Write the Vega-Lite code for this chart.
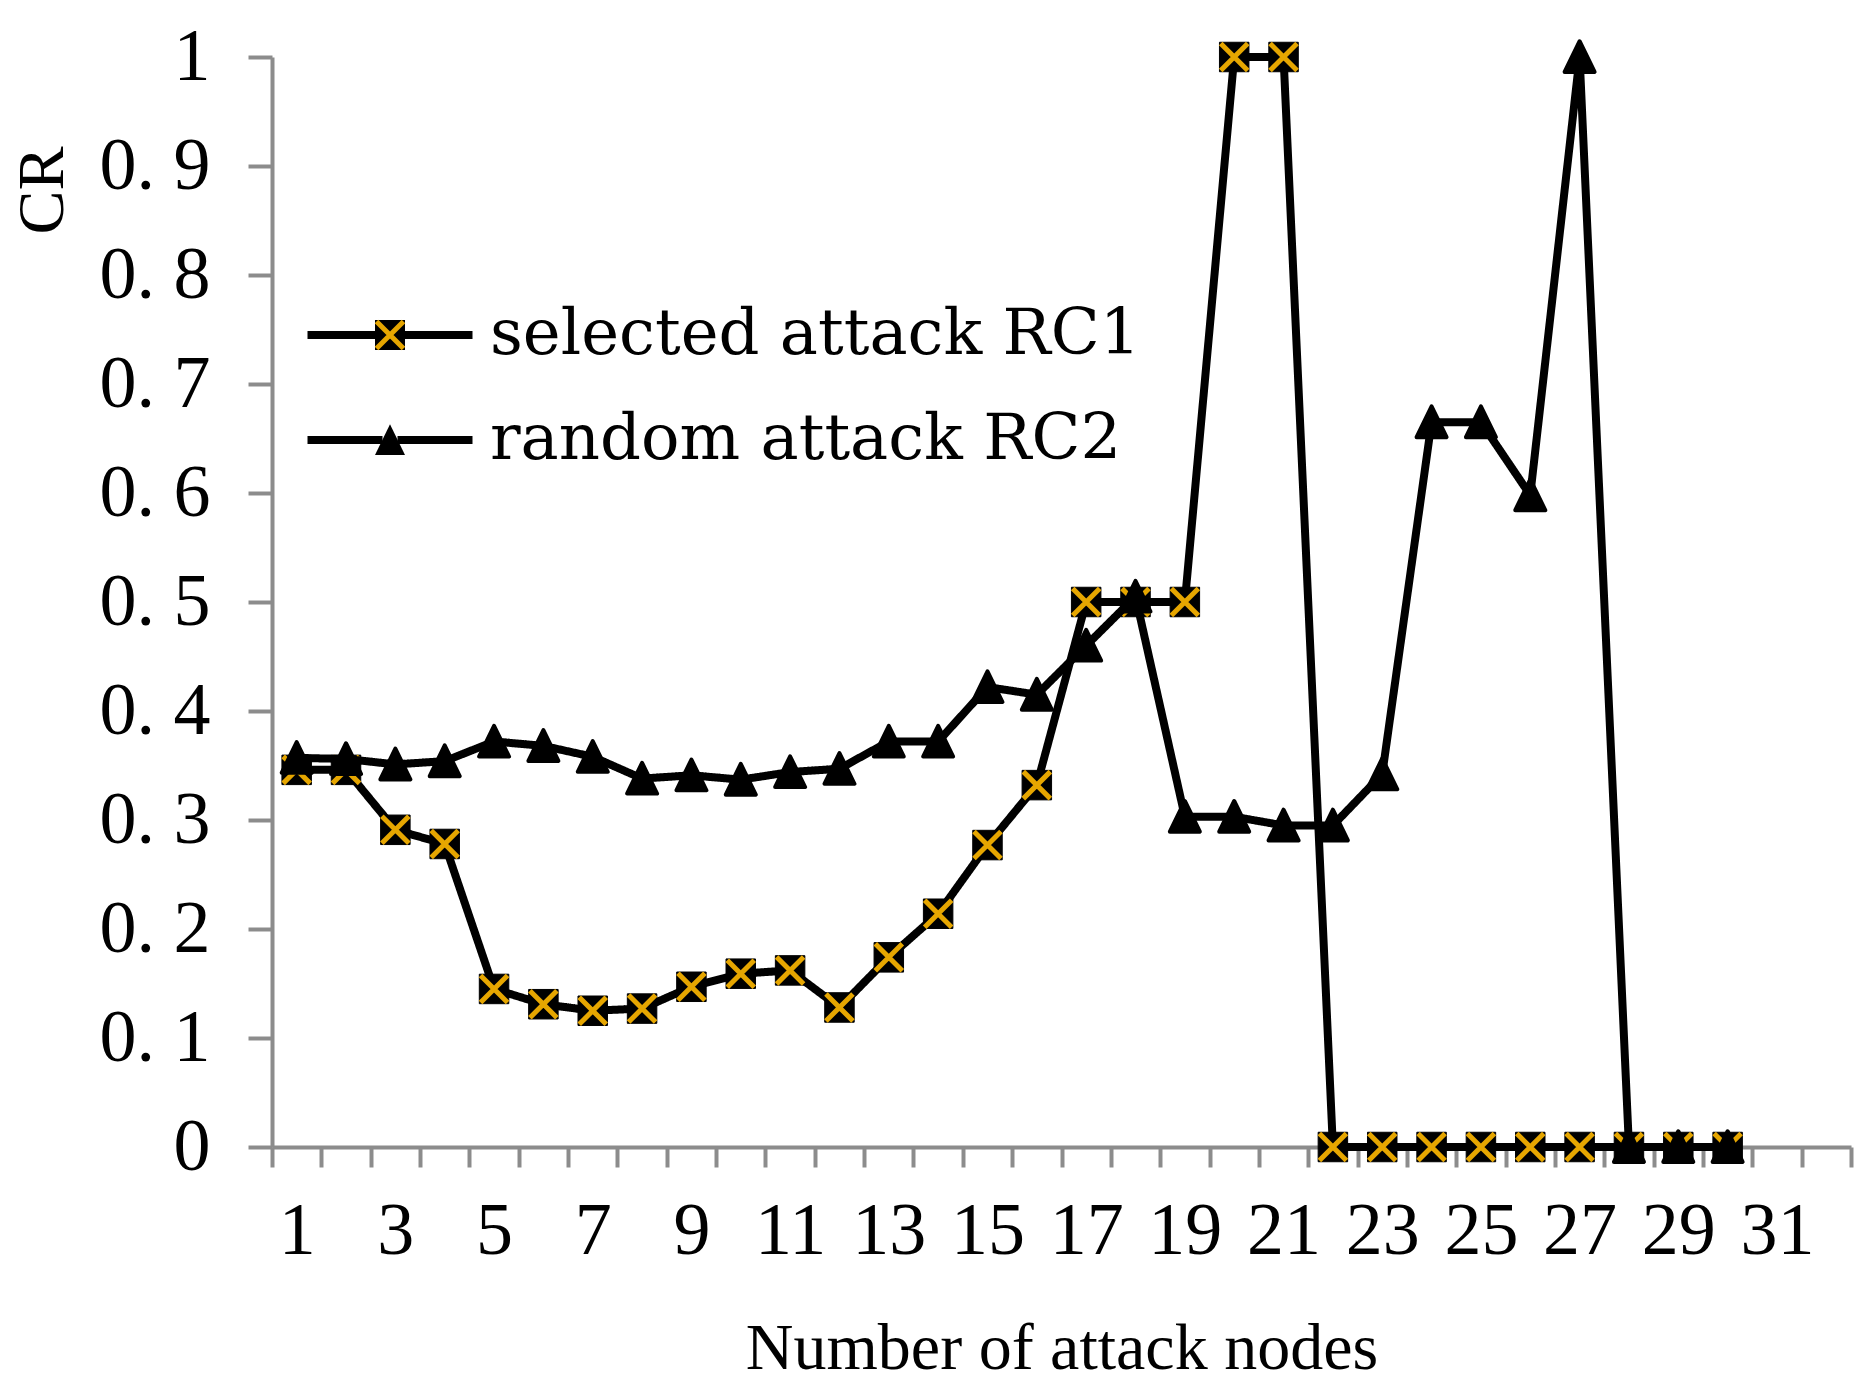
{
  "$schema": "https://vega.github.io/schema/vega-lite/v6.json",
  "width": 1579,
  "height": 1090,
  "autosize": {"type": "none"},
  "padding": {"left": 272, "top": 57, "right": 18, "bottom": 234},
  "background": "white",
  "config": {"view": {"stroke": null}, "font": "Liberation Serif"},
  "data": {"values": [
    {"n": 1, "cr": 0.346, "series": "selected attack RC1"},
    {"n": 2, "cr": 0.346, "series": "selected attack RC1"},
    {"n": 3, "cr": 0.291, "series": "selected attack RC1"},
    {"n": 4, "cr": 0.278, "series": "selected attack RC1"},
    {"n": 5, "cr": 0.145, "series": "selected attack RC1"},
    {"n": 6, "cr": 0.131, "series": "selected attack RC1"},
    {"n": 7, "cr": 0.125, "series": "selected attack RC1"},
    {"n": 8, "cr": 0.127, "series": "selected attack RC1"},
    {"n": 9, "cr": 0.147, "series": "selected attack RC1"},
    {"n": 10, "cr": 0.159, "series": "selected attack RC1"},
    {"n": 11, "cr": 0.162, "series": "selected attack RC1"},
    {"n": 12, "cr": 0.128, "series": "selected attack RC1"},
    {"n": 13, "cr": 0.174, "series": "selected attack RC1"},
    {"n": 14, "cr": 0.214, "series": "selected attack RC1"},
    {"n": 15, "cr": 0.277, "series": "selected attack RC1"},
    {"n": 16, "cr": 0.332, "series": "selected attack RC1"},
    {"n": 17, "cr": 0.5, "series": "selected attack RC1"},
    {"n": 18, "cr": 0.5, "series": "selected attack RC1"},
    {"n": 19, "cr": 0.5, "series": "selected attack RC1"},
    {"n": 20, "cr": 1, "series": "selected attack RC1"},
    {"n": 21, "cr": 1, "series": "selected attack RC1"},
    {"n": 22, "cr": 0, "series": "selected attack RC1"},
    {"n": 23, "cr": 0, "series": "selected attack RC1"},
    {"n": 24, "cr": 0, "series": "selected attack RC1"},
    {"n": 25, "cr": 0, "series": "selected attack RC1"},
    {"n": 26, "cr": 0, "series": "selected attack RC1"},
    {"n": 27, "cr": 0, "series": "selected attack RC1"},
    {"n": 28, "cr": 0, "series": "selected attack RC1"},
    {"n": 29, "cr": 0, "series": "selected attack RC1"},
    {"n": 30, "cr": 0, "series": "selected attack RC1"},
    {"n": 1, "cr": 0.357, "series": "random attack RC2"},
    {"n": 2, "cr": 0.356, "series": "random attack RC2"},
    {"n": 3, "cr": 0.351, "series": "random attack RC2"},
    {"n": 4, "cr": 0.354, "series": "random attack RC2"},
    {"n": 5, "cr": 0.372, "series": "random attack RC2"},
    {"n": 6, "cr": 0.368, "series": "random attack RC2"},
    {"n": 7, "cr": 0.358, "series": "random attack RC2"},
    {"n": 8, "cr": 0.338, "series": "random attack RC2"},
    {"n": 9, "cr": 0.341, "series": "random attack RC2"},
    {"n": 10, "cr": 0.337, "series": "random attack RC2"},
    {"n": 11, "cr": 0.344, "series": "random attack RC2"},
    {"n": 12, "cr": 0.347, "series": "random attack RC2"},
    {"n": 13, "cr": 0.372, "series": "random attack RC2"},
    {"n": 14, "cr": 0.372, "series": "random attack RC2"},
    {"n": 15, "cr": 0.422, "series": "random attack RC2"},
    {"n": 16, "cr": 0.415, "series": "random attack RC2"},
    {"n": 17, "cr": 0.46, "series": "random attack RC2"},
    {"n": 18, "cr": 0.505, "series": "random attack RC2"},
    {"n": 19, "cr": 0.303, "series": "random attack RC2"},
    {"n": 20, "cr": 0.303, "series": "random attack RC2"},
    {"n": 21, "cr": 0.295, "series": "random attack RC2"},
    {"n": 22, "cr": 0.295, "series": "random attack RC2"},
    {"n": 23, "cr": 0.342, "series": "random attack RC2"},
    {"n": 24, "cr": 0.665, "series": "random attack RC2"},
    {"n": 25, "cr": 0.665, "series": "random attack RC2"},
    {"n": 26, "cr": 0.598, "series": "random attack RC2"},
    {"n": 27, "cr": 1, "series": "random attack RC2"},
    {"n": 28, "cr": 0, "series": "random attack RC2"},
    {"n": 29, "cr": 0, "series": "random attack RC2"},
    {"n": 30, "cr": 0, "series": "random attack RC2"}
  ]},
  "encoding": {
    "x": {
      "field": "n", "type": "ordinal", "bandPosition": 0.5,
      "scale": {"type": "band", "domain": [1,2,3,4,5,6,7,8,9,10,11,12,13,14,15,16,17,18,19,20,21,22,23,24,25,26,27,28,29,30,31,32], "paddingInner": 0, "paddingOuter": 0},
      "axis": {
        "title": "Number of attack nodes", "titleFont": "Liberation Serif", "titleFontSize": 66, "titleFontWeight": "normal", "titleColor": "black",
        "titleBaseline": "alphabetic", "titleY": 221,
        "labelAngle": 0, "labelFont": "Liberation Serif", "labelFontSize": 74, "labelColor": "black", "labelPadding": 28,
        "labelExpr": "datum.value % 2 == 1 ? datum.label : ''", "labelOverlap": false,
        "tickBand": "extent", "tickSize": 20, "tickWidth": 4, "tickColor": "#8c8c8c",
        "domainColor": "#8c8c8c", "domainWidth": 4, "grid": false
      }
    },
    "y": {
      "field": "cr", "type": "quantitative",
      "scale": {"domain": [0, 1], "nice": false},
      "axis": {
        "title": "CR", "titleFont": "Liberation Serif", "titleFontSize": 66, "titleFontWeight": "normal", "titleColor": "black",
        "titleAngle": -90, "titleX": -210, "titleY": 133, "titleAlign": "center", "titleBaseline": "alphabetic",
        "values": [0, 0.1, 0.2, 0.3, 0.4, 0.5, 0.6, 0.7, 0.8, 0.9, 1],
        "labelExpr": "datum.value == 0 ? '0' : datum.value == 1 ? '1' : replace(format(datum.value, '.1f'), '.', '. ')",
        "labelFont": "Liberation Serif", "labelFontSize": 74, "labelColor": "black", "labelPadding": 38,
        "tickSize": 24, "tickWidth": 4, "tickColor": "#8c8c8c",
        "domainColor": "#8c8c8c", "domainWidth": 4, "grid": false
      }
    }
  },
  "layer": [
    {
      "transform": [{"filter": "datum.series == 'selected attack RC1'"}],
      "mark": {"type": "line", "stroke": "black", "strokeWidth": 8, "strokeJoin": "round", "strokeCap": "round"},
      "encoding": {
        "strokeDash": {
          "field": "series", "type": "nominal",
          "scale": {"domain": ["selected attack RC1", "random attack RC2"], "range": [[1, 0], [1, 0]]},
          "legend": {
            "orient": "none", "legendX": 86, "legendY": 246, "title": null, "padding": 0,
            "labelFont": "DejaVu Serif", "labelFontSize": 64, "labelColor": "black", "labelOffset": 68, "labelLimit": 2000,
            "symbolType": "M-5.5,0H-0.5M0.5,0H5.5", "symbolSize": 900, "symbolStrokeWidth": 8, "symbolStrokeColor": "black", "rowPadding": 41
          }
        }
      }
    },
    {
      "transform": [{"filter": "datum.series == 'selected attack RC1'"}],
      "mark": {"type": "point", "filled": true, "fill": "black", "stroke": "black", "strokeWidth": 1, "size": 870, "opacity": 1},
      "encoding": {
        "shape": {
          "field": "series", "type": "nominal",
          "scale": {"domain": ["random attack RC2", "selected attack RC1"], "range": ["M-5.5,0M5.5,0M0,-1.05L1,1H-1Z", "M-5.5,0M5.5,0M-1,-1H1V1H-1Z"]},
          "legend": {
            "orient": "none", "legendX": 86, "legendY": 246, "title": null, "padding": 0,
            "values": ["selected attack RC1", "random attack RC2"],
            "labelFont": "DejaVu Serif", "labelFontSize": 64, "labelColor": "black", "labelOpacity": 0, "labelOffset": 68, "labelLimit": 2000,
            "symbolSize": 900, "symbolStrokeWidth": 4, "symbolFillColor": "black", "symbolStrokeColor": "black", "rowPadding": 41
          }
        }
      }
    },
    {
      "transform": [{"filter": "datum.series == 'selected attack RC1'"}],
      "mark": {"type": "point", "shape": "M-0.9,-0.9L0.9,0.9M-0.9,0.9L0.9,-0.9", "filled": false, "strokeWidth": 5, "size": 900, "opacity": 1},
      "encoding": {
        "stroke": {
          "field": "series", "type": "nominal",
          "scale": {"domain": ["selected attack RC1"], "range": ["#E6A600"]},
          "legend": {
            "orient": "none", "legendX": 86, "legendY": 246, "title": null, "padding": 0,
            "labelFont": "DejaVu Serif", "labelFontSize": 64, "labelColor": "black", "labelOpacity": 0, "labelOffset": 68, "labelLimit": 2000,
            "symbolType": "M-5.5,0M5.5,0M-0.9,-0.9L0.9,0.9M-0.9,0.9L0.9,-0.9",
            "symbolSize": 900, "symbolStrokeWidth": 5, "rowPadding": 41
          }
        }
      }
    },
    {
      "transform": [{"filter": "datum.series == 'random attack RC2'"}],
      "mark": {"type": "line", "stroke": "black", "strokeWidth": 8, "strokeJoin": "round", "strokeCap": "round"},
      "encoding": {
        "strokeDash": {"field": "series", "type": "nominal"}
      }
    },
    {
      "transform": [{"filter": "datum.series == 'random attack RC2'"}],
      "mark": {"type": "point", "filled": true, "fill": "black", "stroke": "black", "strokeWidth": 4, "strokeJoin": "round", "size": 900, "opacity": 1},
      "encoding": {
        "shape": {"field": "series", "type": "nominal"}
      }
    }
  ]
}
